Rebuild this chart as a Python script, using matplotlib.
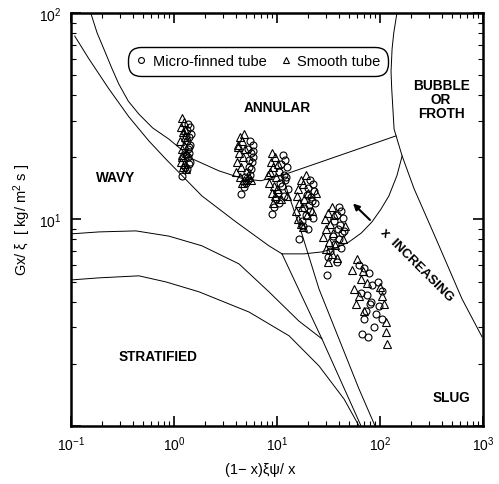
import numpy as np
import matplotlib.pyplot as plt

plt.rcParams['font.family'] = ['Liberation Sans', 'DejaVu Sans']
plt.rcParams['mathtext.fontset'] = 'custom'
plt.rcParams['mathtext.rm'] = 'Liberation Sans'
plt.rcParams['mathtext.it'] = 'Liberation Sans:italic'

# ---- measured points ----
# micro-finned tube (circles)
fin_x = [1.38, 1.42, 1.35, 1.45, 1.40, 1.33, 1.44, 1.37, 1.41, 1.30, 1.36, 1.43, 1.39, 1.28, 1.34, 1.20, 1.40, 1.32,
         5.5, 5.8, 5.2, 5.6, 5.9, 5.4, 5.7, 5.3, 5.6, 5.1, 5.5, 4.9, 5.2, 4.5, 4.8, 5.0, 5.8,
         11.5, 12.0, 11.0, 12.5, 10.5, 11.8, 12.2, 10.8, 11.3, 12.8, 10.2, 11.6, 9.8, 10.5, 9.3, 8.9, 12.0,
         21, 22.5, 20, 23, 19.5, 21.5, 22, 20.5, 18.5, 21, 19, 22.5, 17.5, 18, 16.3, 20, 23.5,
         40, 42, 38, 44, 36, 41, 39, 43, 35, 40, 37, 42, 33, 31, 30.6, 38, 45,
         62, 70, 78, 84, 75, 82, 73, 70, 76, 67, 104, 98, 104, 88, 66, 95, 92, 80]
fin_y = [29, 28, 27, 26, 25, 24, 23, 22, 21, 20.5, 20, 19, 18.5, 18, 17.5, 16.2, 22.5, 25.5,
         24, 23, 22, 21, 20, 19.5, 19, 18, 17.5, 17, 16.5, 16, 15.5, 13.3, 14.3, 15, 21.5,
         20.5, 19.5, 18.5, 18, 17, 16.5, 16, 15, 14.5, 14, 13.5, 13, 12.5, 12, 11.5, 10.6, 15.5,
         15.5, 14.8, 14.2, 13.8, 13.2, 12.8, 12.3, 11.8, 11.3, 11, 10.5, 10.2, 9.8, 9.3, 8.0, 9, 12,
         11.5, 11, 10.5, 10.2, 9.8, 9.4, 9, 8.6, 8.3, 8, 7.6, 7.3, 7, 6.6, 5.4, 6.2, 8.8,
         6.0, 5.8, 5.5, 4.8, 4.3, 4.0, 3.6, 3.3, 2.7, 2.8, 4.5, 3.8, 3.3, 3.0, 4.4, 5.0, 3.5, 3.9]

# smooth tube (triangles)
smooth_x = [1.20, 1.25, 1.18, 1.22, 1.28, 1.15, 1.24, 1.19, 1.30, 1.21, 1.17, 1.26, 1.23, 1.32, 1.20, 1.27,
            4.8, 4.4, 4.6, 4.2, 4.9, 4.3, 4.7, 4.1, 4.5, 4.0, 4.4, 4.8, 4.6, 5.4, 5.6, 4.2,
            9.0, 9.5, 8.8, 10.2, 9.2, 8.6, 9.8, 8.4, 9.4, 10.0, 8.9, 9.6, 12.5, 11.0, 9.1, 8.2,
            19, 17, 18, 16, 20, 15.5, 18.5, 16.5, 17.5, 15.2, 19.5, 16, 24, 22, 17, 18,
            34, 31, 36, 29, 33, 30, 35, 28, 32, 37, 30, 34, 46, 44, 38, 31,
            60, 53, 65, 56, 62, 58, 70, 104, 109, 114, 114, 117, 68, 74, 100]
smooth_y = [31, 29.5, 28, 26.5, 25, 24, 23, 22, 21, 20, 19, 18.5, 18, 17.5, 20.5, 27,
            26, 25, 24, 22.5, 22, 21, 20, 19, 18, 17, 16, 15.5, 15, 16, 15.5, 23,
            21, 20, 19, 18.5, 18, 17, 16, 15, 14.5, 14, 13.5, 13, 13, 12.5, 12, 16.5,
            16.5, 15.5, 14.8, 14, 13.5, 13, 12.5, 12, 11.5, 11, 10.5, 10, 13.5, 11, 9.5, 9.2,
            11.5, 10.8, 10.5, 10, 9.5, 9, 8.6, 8.2, 7.8, 7.5, 7.2, 6.8, 9.3, 8, 6.5, 6.2,
            6.4, 5.7, 5.15, 4.6, 4.26, 3.9, 3.6, 4.26, 3.9, 3.19, 2.85, 2.5, 5.6, 4.9, 4.7]

# ---- flow pattern boundaries ----
wa_upper_x = [0.156, 0.18, 0.209, 0.25, 0.292, 0.36, 0.457, 0.62, 0.894, 1.53, 2.73, 4.78, 7.0, 13.1, 32, 143]
wa_upper_y = [100, 80, 67, 54, 45.3, 37.5, 32.4, 27.8, 24.5, 19.6, 17.2, 15.7, 15.4, 16.8, 19.6, 25.4]
wa_lower_x = [0.109, 0.150, 0.234, 0.366, 0.572, 0.836, 1.87, 4.0, 8.36, 11.2]
wa_lower_y = [77.4, 59.9, 42.9, 31.4, 24.0, 19.6, 13.0, 9.73, 7.45, 6.81]
sw_upper_x = [0.1, 0.187, 0.428, 0.894, 1.87, 4.28, 8.36, 16.3, 27.3]
sw_upper_y = [8.51, 8.7, 8.8, 8.3, 7.45, 6.09, 4.46, 3.22, 2.64]
sw_lower_x = [0.1, 0.187, 0.457, 0.836, 1.75, 5.35, 13.1, 25.6, 44.7, 62.5]
sw_lower_y = [5.09, 5.21, 5.33, 4.98, 4.46, 3.56, 2.73, 1.95, 1.35, 1.0]
slug_left_x = [11.2, 27.3, 65.4]
slug_left_y = [6.81, 2.64, 1.0]
slug_right_x = [11.2, 17.1, 25.6, 62.5, 89.4]
slug_right_y = [16.4, 8.8, 4.6, 1.51, 1.0]
arc_x = [11.2, 18.3, 27.3, 38, 50, 66, 83.6, 102, 122, 146, 164]
arc_y = [6.81, 6.81, 6.96, 7.3, 7.78, 8.6, 9.73, 11.2, 13.0, 16.3, 20.3]
bubble_x = [146, 136, 131, 128, 130, 137, 164, 214, 350, 625, 977]
bubble_y = [100, 80, 67, 52, 42.9, 27.4, 20.3, 14.1, 8.05, 4.12, 2.70]

fig = plt.figure(figsize=(4.99, 4.85), dpi=100)
ax = fig.add_axes([0.142, 0.12, 0.826, 0.851])

for cx, cy in [(wa_upper_x, wa_upper_y), (wa_lower_x, wa_lower_y),
               (sw_upper_x, sw_upper_y), (sw_lower_x, sw_lower_y),
               (slug_left_x, slug_left_y), (slug_right_x, slug_right_y),
               (arc_x, arc_y), (bubble_x, bubble_y)]:
    ax.plot(cx, cy, 'k-', lw=0.7)

ax.plot(fin_x, fin_y, 'o', mfc='none', mec='k', ms=5, mew=0.8, ls='none', label='Micro-finned tube')
ax.plot(smooth_x, smooth_y, '^', mfc='none', mec='k', ms=5.5, mew=0.8, ls='none', label='Smooth tube')

ax.set_xscale('log')
ax.set_yscale('log')
ax.set_xlim(0.1, 1000)
ax.set_ylim(1, 100)
ax.set_yticks([1, 10, 100])
ax.set_yticklabels(['', '$10^1$', '$10^2$'])
ax.tick_params(which='both', direction='in', top=True, right=True, labelsize=10)
ax.tick_params(which='major', length=7, width=1.2)
ax.tick_params(which='minor', length=3.5, width=0.8)
ax.tick_params(axis='y', pad=7)
ax.tick_params(axis='x', pad=6)
for s in ax.spines.values():
    s.set_linewidth(1.8)

leg = ax.legend(loc='center', bbox_to_anchor=(0.454, 0.883), ncol=2, fontsize=10.5,
                fancybox=True, edgecolor='k', framealpha=1, handlelength=0.8,
                handletextpad=0.4, columnspacing=0.9, borderpad=0.3, markerscale=0.85)
leg.get_frame().set_linewidth(1.0)
leg.get_frame().set_boxstyle('round,pad=0.2,rounding_size=0.9')

ax.annotate('', xy=(52.3, 12.2), xytext=(83.6, 9.73),
            arrowprops=dict(arrowstyle='-|>', color='k', lw=1.5, mutation_scale=9))
ax.text(229, 6.02, 'x  INCREASING', rotation=-45, ha='center', va='center',
        fontsize=9.5, fontweight='bold')

lab = dict(ha='center', va='center', fontsize=9.8, fontweight='bold')
ax.text(10.0, 35, 'ANNULAR', **lab)
ax.text(391, 38.3, 'BUBBLE\nOR\nFROTH', linespacing=1.0, **lab)
ax.text(0.273, 16.1, 'WAVY', **lab)
ax.text(0.70, 2.18, 'STRATIFIED', **lab)
ax.text(489, 1.38, 'SLUG', **lab)

ax.set_ylabel('Gx/ ξ  [ kg/ m$^2$ s ]', fontsize=10.5, labelpad=4)
ax.set_xlabel('(1− x)ξψ/ x', fontsize=10.5)
ax.xaxis.set_label_coords(0.459, -0.087)

fig.savefig('out.png', dpi=100)
